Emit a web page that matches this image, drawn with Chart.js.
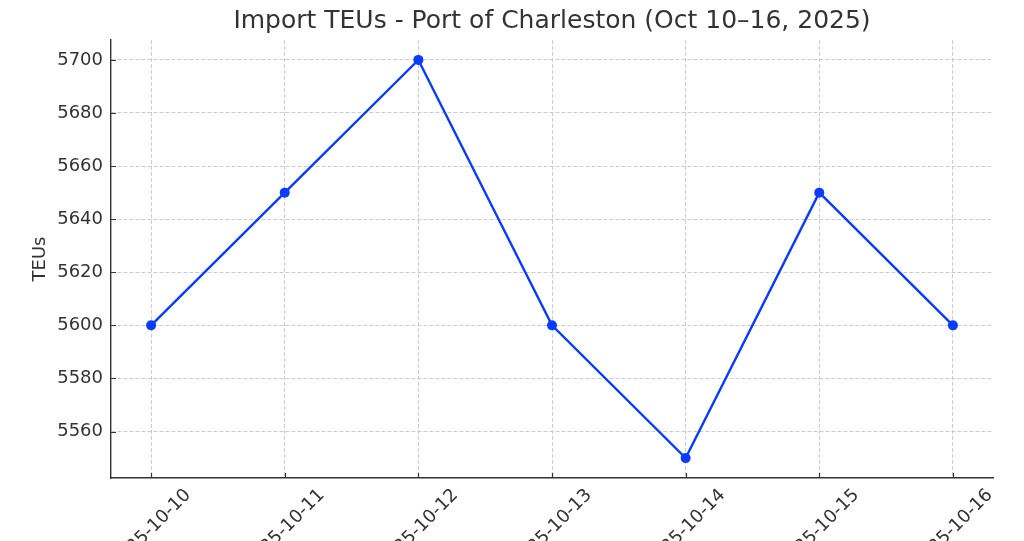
<!DOCTYPE html>
<html>
<head>
<meta charset="utf-8">
<script src="https://cdn.jsdelivr.net/npm/chart.js@4/dist/chart.umd.min.js"></script>
<style>
  html, body { margin: 0; padding: 0; background: #fff; }
  #wrap { width: 1024px; height: 541px; }
</style>
</head>
<body>
<div id="wrap"><canvas id="chart" width="1024" height="541"></canvas></div>
<script>
// Chart data
const dates = ['2025-10-10', '2025-10-11', '2025-10-12', '2025-10-13', '2025-10-14', '2025-10-15', '2025-10-16'];
const teus = [5600, 5650, 5700, 5600, 5550, 5650, 5600];
const yTicks = [5560, 5580, 5600, 5620, 5640, 5660, 5680, 5700];
const titleText = 'Import TEUs - Port of Charleston (Oct 10\u201316, 2025)';
const yLabel = 'TEUs';

const FONT = "'DejaVu Sans', sans-serif";
const TICK_SIZE = 18;
const TITLE_SIZE = 25;
const TEXT = '#333333';
const LINE = '#0a3cff';
const AXIS = '#333333';
const GRID = '#cccccc';

// title centred over the plot area, inward tick marks,
// rotated date labels centred on their tick (matplotlib style)
const axisDecor = {
  id: 'axisDecor',
  afterDraw(chart) {
    const { ctx, chartArea, scales } = chart;
    const x = scales.x;
    const y = scales.y;
    ctx.save();

    ctx.fillStyle = TEXT;
    ctx.font = TITLE_SIZE + 'px ' + FONT;
    ctx.textAlign = 'center';
    ctx.textBaseline = 'middle';
    ctx.fillText(titleText, (chartArea.left + chartArea.right) / 2, 21);

    ctx.strokeStyle = AXIS;
    ctx.lineWidth = 1.2;
    ctx.beginPath();
    x.ticks.forEach((t) => {
      const px = Math.round(x.getPixelForValue(t.value)) + 0.5;
      ctx.moveTo(px, chartArea.bottom);
      ctx.lineTo(px, chartArea.bottom - 5);
    });
    y.ticks.forEach((t) => {
      const py = Math.round(y.getPixelForValue(t.value)) + 0.5;
      ctx.moveTo(chartArea.left, py);
      ctx.lineTo(chartArea.left + 5, py);
    });
    ctx.stroke();

    ctx.font = TICK_SIZE + 'px ' + FONT;
    const h = TICK_SIZE;
    x.ticks.forEach((t) => {
      const label = dates[t.value];
      const w = ctx.measureText(label).width;
      const half = (w + h) * Math.SQRT1_2 / 2;
      const px = x.getPixelForValue(t.value);
      ctx.save();
      ctx.translate(px, chartArea.bottom + 8 + half);
      ctx.rotate(-Math.PI / 4);
      ctx.fillText(label, 0, 0);
      ctx.restore();
    });
    ctx.restore();
  },
};

new Chart(document.getElementById('chart'), {
  type: 'line',
  data: {
    datasets: [
      {
        data: teus.map((v, i) => ({ x: i, y: v })),
        borderColor: LINE,
        backgroundColor: LINE,
        borderWidth: 2.4,
        pointRadius: 5,
        pointBackgroundColor: LINE,
        pointBorderWidth: 0,
        tension: 0,
      },
    ],
  },
  options: {
    responsive: false,
    animation: false,
    events: [],
    layout: { padding: { left: 0, right: 31, top: 40, bottom: 63 } },
    scales: {
      x: {
        type: 'linear',
        min: -0.3,
        max: 6.3,
        afterBuildTicks(scale) {
          scale.ticks = dates.map((_, i) => ({ value: i }));
        },
        ticks: { display: false },
        grid: { color: GRID, lineWidth: 1, drawTicks: false },
        border: { display: true, color: AXIS, width: 1.4, dash: [4, 2] },
      },
      y: {
        min: 5542.5,
        max: 5707.5,
        afterBuildTicks(scale) {
          scale.ticks = yTicks.map((v) => ({ value: v }));
        },
        afterFit(scale) {
          scale.width = 111;
        },
        ticks: {
          color: TEXT,
          font: { family: FONT, size: TICK_SIZE },
          padding: 8,
          callback: (v) => String(v),
        },
        grid: { color: GRID, lineWidth: 1, drawTicks: false },
        border: { display: true, color: AXIS, width: 1.4, dash: [4, 2] },
        title: {
          display: true,
          text: yLabel,
          color: TEXT,
          font: { family: FONT, size: TICK_SIZE },
          padding: { top: 30, bottom: 0 },
        },
      },
    },
    plugins: {
      legend: { display: false },
      tooltip: { enabled: false },
      title: { display: false },
    },
  },
  plugins: [axisDecor],
});
</script>
</body>
</html>
